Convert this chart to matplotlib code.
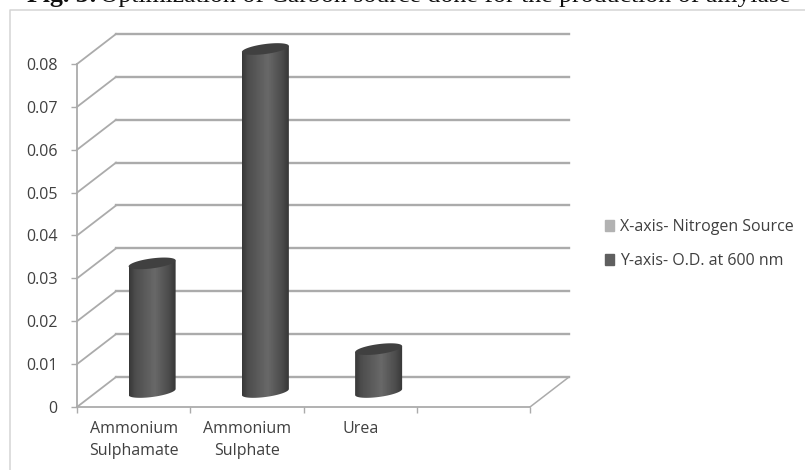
import numpy as np
import matplotlib
matplotlib.use("Agg")
import matplotlib.pyplot as plt
from matplotlib.lines import Line2D
from matplotlib.patches import Patch, Polygon

# Values
categories = ["Ammonium\nSulphamate", "Ammonium\nSulphate", "Urea"]
od_600 = [0.03, 0.08, 0.01]
y_ticks = [0, 0.01, 0.02, 0.03, 0.04, 0.05, 0.06, 0.07, 0.08]
y_labels = ["0", "0.01", "0.02", "0.03", "0.04", "0.05", "0.06", "0.07", "0.08"]
legend_labels = ["X-axis- Nitrogen Source", "Y-axis- O.D. at 600 nm"]
title = "Optimization of Carbon source done for the production of amylase"

W, H = 805, 470
LINE = "#ababab"
TEXT = "#404040"
SANS = "Open Sans"

fig = plt.figure(figsize=(W / 100, H / 100), dpi=100, facecolor="white")
ax = fig.add_axes([77 / W, 1 - 407 / H, (569 - 77) / W, (407 - 34) / H])

# pixel sizes in data units
px_x = 1 / 113.25
px_y = 0.08 / 343
depth_x = 39 * px_x
depth_y = 30 * px_y
n_slots = 4

# walls and floor
for tick in y_ticks:
    ax.plot([0, depth_x], [tick, tick + depth_y], color=LINE, lw=1.3, zorder=1, clip_on=False)
    ax.plot([depth_x, n_slots + depth_x], [tick + depth_y] * 2, color=LINE, lw=1.7, zorder=1, clip_on=False)
ax.plot([n_slots, n_slots + depth_x], [0, depth_y], color=LINE, lw=1.1, zorder=1)

# cylinders
shade = np.interp(np.linspace(0, 1, 60), [0, 0.12, 0.55, 0.85, 1], [0.22, 0.3, 0.41, 0.3, 0.22])
shade = np.tile(shade, (2, 1))
half_w = 23.5 * px_x
ell_b = 5 * px_y
ell_s = 3 * px_y
t = np.linspace(0, 2 * np.pi, 80)
for i, val in enumerate(od_600):
    cx = i + 0.5 + depth_x / 2 - px_x
    y0 = depth_y / 2
    y1 = val + depth_y / 2
    ex = cx + half_w * np.cos(t)
    top_y = y1 + ell_b * np.sin(t) + ell_s * np.cos(t)
    low = np.linspace(np.pi, 2 * np.pi, 40)
    body_x = np.r_[cx + half_w * np.cos(low), cx + half_w, cx - half_w]
    body_y = np.r_[y0 + ell_b * np.sin(low) + ell_s * np.cos(low), y1 + ell_s, y1 - ell_s]
    im = ax.imshow(shade, cmap="gray", vmin=0, vmax=1, aspect="auto", zorder=3,
                   extent=[cx - half_w, cx + half_w, y0 - 2 * ell_b, y1 + 2 * ell_b])
    im.set_clip_path(Polygon(np.c_[body_x, body_y], transform=ax.transData))
    ax.fill(ex, top_y, color="#404040", lw=0, zorder=4)

ax.set_xlim(0, n_slots + depth_x)
ax.set_ylim(0, 0.08 + depth_y)

ax.set_yticks(y_ticks, y_labels)
ax.set_xticks(range(n_slots + 1), [""] * (n_slots + 1))
ax.set_xticks([i + 0.5 for i in range(len(categories))], categories, minor=True)
ax.tick_params(axis="y", length=4, width=1, color=LINE, pad=10, labelcolor=TEXT, labelsize=11.5)
ax.tick_params(axis="x", which="major", length=4, width=1, color=LINE)
ax.tick_params(axis="x", which="minor", length=0, pad=10, labelcolor=TEXT, labelsize=11.5)
for lab in ax.get_xticklabels(minor=True) + ax.get_yticklabels():
    lab.set_family(SANS)
    lab.set_linespacing(1.55)

for side in ["top", "right"]:
    ax.spines[side].set_visible(False)
ax.spines["left"].set_bounds(0, 0.08)
ax.spines["bottom"].set_bounds(0, n_slots)
ax.spines["left"].set_color(LINE)
ax.spines["bottom"].set_color(LINE)
ax.spines["left"].set_linewidth(1.3)
ax.spines["bottom"].set_linewidth(1.3)
ax.patch.set_visible(False)

# legend, the x series has no bars of its own
handles = [Patch(color="#b2b2b2"), Patch(color="#5f5f5f")]
fig.legend(handles, legend_labels, loc="center left", bbox_to_anchor=(591 / W, 1 - 244 / H),
           frameon=False, prop={"family": SANS, "size": 11.5}, labelcolor=TEXT,
           handlelength=0.57, handleheight=0.7, handletextpad=0.35, labelspacing=1.1)

# chart frame, cut by the page
fig.add_artist(Line2D([9.5 / W, 9.5 / W, 1], [0, 1 - 9.5 / H, 1 - 9.5 / H], color="#d4d4d4", lw=1.1))

# caption, its top is cut off in the scan
fig.text(27 / W, 1 - 2 / H, "Fig. 3:", family="Liberation Serif", weight="bold",
         size=18.6, color="#111111", va="baseline")
fig.text(100 / W, 1 - 2 / H, title, family="Liberation Serif", size=18.6,
         color="#111111", va="baseline")

fig.savefig("out.png", dpi=100)
